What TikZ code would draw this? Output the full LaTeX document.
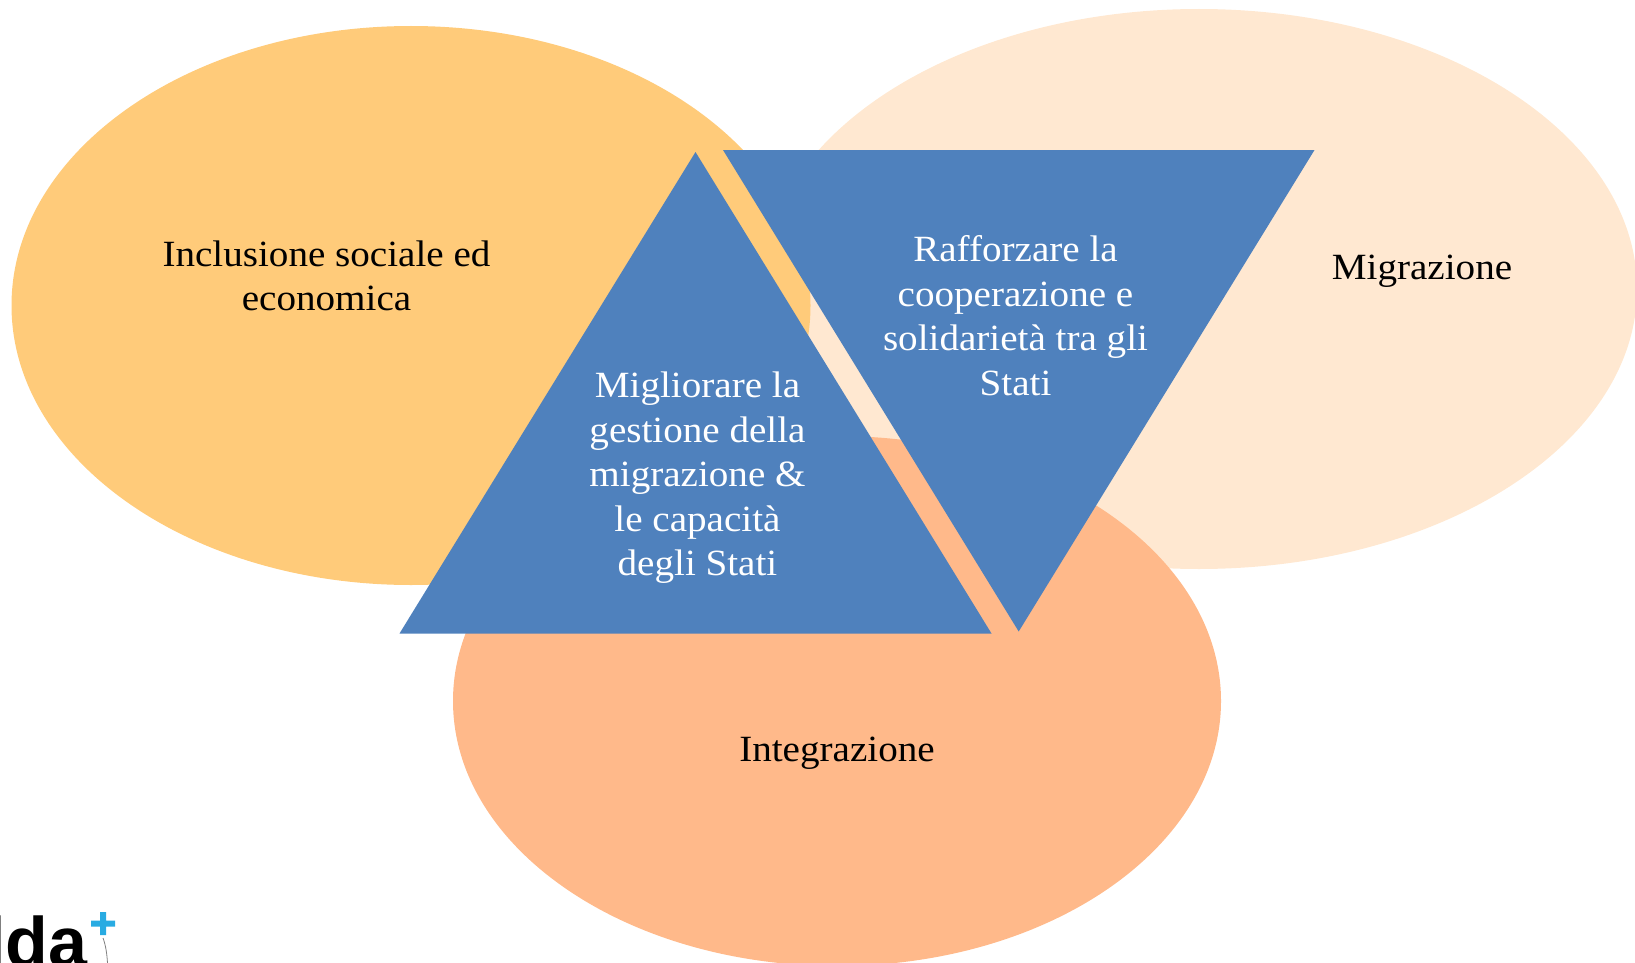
\documentclass[tikz,border=0pt]{standalone}
\usepackage{fontspec}
\setmainfont[FakeStretch=1.057]{Liberation Serif}
\newfontfamily\logofont{Liberation Sans}
\definecolor{ellA}{HTML}{FFCB7A}
\definecolor{ellB}{HTML}{FFE8D1}
\definecolor{ellC}{HTML}{FFB98A}
\definecolor{triblue}{HTML}{4F81BD}
\definecolor{plusblue}{HTML}{29ABE2}
\tikzset{
  bubble/.style={draw=none},
  tri/.style={fill=triblue,draw=none},
  dark/.style={text=black,align=center,font=\fontsize{37}{44.5}\selectfont,inner sep=0pt},
  lightlabel/.style={text=white,align=center,font=\fontsize{37}{44.5}\selectfont,inner sep=0pt},
}
\begin{document}
\begin{tikzpicture}[x=1pt,y=-1pt]
\useasboundingbox (0,0) rectangle (1635,963);
\clip (0,0) rectangle (1635,963);
\fill[bubble,ellB] (1199,289) ellipse [x radius=438,y radius=280];
\fill[bubble,ellA] (411,305.5) ellipse [x radius=399.5,y radius=279.5];
\fill[bubble,ellC] (837,701) ellipse [x radius=384,y radius=265];
\fill[tri] (695.5,152) -- (991.5,633.5) -- (399.5,633.5) -- cycle;
\fill[tri] (723,150) -- (1314.5,150) -- (1018.7,631.5) -- cycle;
\node[dark] (inclusione) at (326.5,276) {Inclusione sociale ed\\economica};
\node[dark] (migrazione) at (1422,271) {Migrazione};
\node[dark] (integrazione) at (837,753.5) {Integrazione};
\node[lightlabel] (rafforzare) at (1015.5,315.5) {Rafforzare la\\cooperazione e\\solidarietà tra gli\\Stati};
\node[lightlabel] (migliorare) at (697.5,478) {Migliorare la\\gestione della\\migrazione \&\\le capacità\\degli Stati};
\node[anchor=base west,inner sep=0pt,text=black,font=\logofont\bfseries\fontsize{70}{70}\selectfont] (logo) at (-14,966) {lda};
\fill[plusblue] (100,912) rectangle (106,935) (91,920.5) rectangle (115,926.5);
\draw[gray,line width=0.8pt] (103,938) .. controls (106,946) and (107,955) .. (107.5,963);
\end{tikzpicture}
\end{document}
